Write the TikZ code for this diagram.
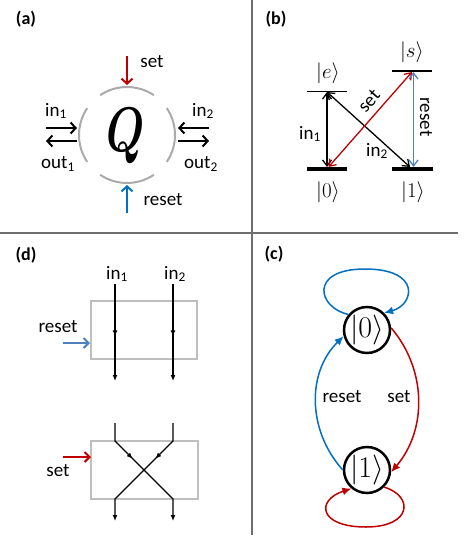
\RequirePackage{fix-cm}
\documentclass[tikz,border=0pt]{standalone}
\usepackage{graphicx}
\usepackage[no-math]{fontspec}
\setmainfont{Carlito}
\usetikzlibrary{arrows.meta,decorations.markings,calc}
\definecolor{myred}{RGB}{192,0,0}
\definecolor{myblue}{RGB}{0,112,192}
\definecolor{lightblue}{RGB}{79,129,189}
\definecolor{arcgray}{RGB}{170,170,170}
\definecolor{boxgray}{RGB}{191,191,191}
\definecolor{divgray}{RGB}{110,110,110}
\begin{document}
\begin{tikzpicture}[x=1pt,y=-1pt,
  lbl/.style={font=\fontsize{19}{22}\selectfont, inner sep=0pt},
  plabel/.style={font=\fontsize{18}{21}\selectfont\bfseries, inner sep=0pt},
  ket/.style={font=\fontsize{21}{24}\selectfont, inner sep=0pt},
  divider/.style={draw=divgray, line width=1.4pt},
  qarc/.style={draw=arcgray, line width=2pt},
  barbA/.style={line width=2pt, -{Straight Barb[length=5pt,width=11pt]}},
  barbB/.style={line width=1.3pt, {Straight Barb[length=6pt,width=9pt]}-{Straight Barb[length=6pt,width=9pt]}},
  thinlevel/.style={line width=1.3pt},
  thicklevel/.style={line width=4pt},
  state/.style={circle, draw, line width=2.5pt, minimum size=46pt, inner sep=0pt, font=\fontsize{30}{32}\selectfont},
  edgeC/.style={line width=1.5pt, -{Latex[length=9pt,width=8pt]}},
  wire/.style={line width=1.3pt},
  wireend/.style={wire, -{Latex[length=6pt,width=5pt]}},
  midarrow/.style={postaction={decorate}, decoration={markings, mark=at position #1 with {\arrow{Latex[length=6pt,width=5pt]}}}},
  gbox/.style={draw=boxgray, line width=2.8pt, inner sep=0pt},
  ctrl/.style={line width=2pt, -{Straight Barb[length=5pt,width=10pt]}},
]
\useasboundingbox (0,0) rectangle (469,546);
\fill[white] (0,0) rectangle (469,546);

% dividers
\coordinate (vt) at (252,0); \coordinate (vb) at (252,535);
\coordinate (hl) at (0,233); \coordinate (hr) at (458,233);
\draw[divider] (vt) -- (vb);
\draw[divider] (hl) -- (hr);

% ---------- panel (a)
\node[plabel] (pa) at (26,19) {(a)};
\coordinate (qc) at (127,135);
\node[font=\fontsize{63}{66}\selectfont\boldmath, inner sep=0pt] (Q) at (126,136) {\scalebox{0.7}[1]{$Q$}};
\foreach \a [evaluate=\a as \s using \a-34, evaluate=\a as \e using \a+34] in {0,90,180,270}
  \draw[qarc] ($(qc)+(\s:48)$) arc[start angle=\s, end angle=\e, radius=48];
\coordinate (i1s) at (46,128); \coordinate (i1e) at (77,128);
\coordinate (o1s) at (77,141); \coordinate (o1e) at (46,141);
\coordinate (i2s) at (209,128); \coordinate (i2e) at (178,128);
\coordinate (o2s) at (178,141); \coordinate (o2e) at (209,141);
\coordinate (sts) at (127,56); \coordinate (ste) at (127,85);
\coordinate (rss) at (127,213); \coordinate (rse) at (127,185);
\draw[barbA] (i1s) -- (i1e);
\draw[barbA] (o1s) -- (o1e);
\draw[barbA] (i2s) -- (i2e);
\draw[barbA] (o2s) -- (o2e);
\draw[barbA, myred] (sts) -- (ste);
\draw[barbA, myblue] (rss) -- (rse);
\node[lbl] (ain1) at (56,111) {in\textsubscript{1}};
\node[lbl] (aout1) at (58,164) {out\textsubscript{1}};
\node[lbl] (ain2) at (203,111) {in\textsubscript{2}};
\node[lbl] (aout2) at (201,164) {out\textsubscript{2}};
\node[lbl] (aset) at (152,62) {set};
\node[lbl] (areset) at (163,200) {reset};

% ---------- panel (b)
\node[plabel] (pb) at (276,19) {(b)};
\coordinate (eL) at (307,91.5); \coordinate (eR) at (347,91.5);
\coordinate (sL) at (392,71); \coordinate (sR) at (432,71);
\coordinate (zL) at (307,168.5); \coordinate (zR) at (347,168.5);
\coordinate (oL) at (392,168.5); \coordinate (oR) at (433,168.5);
\draw[thinlevel] (eL) -- (eR);
\draw[thinlevel] (sL) -- (sR);
\draw[thicklevel] (zL) -- (zR);
\draw[thicklevel] (oL) -- (oR);
\coordinate (e) at (327,92);
\coordinate (g0) at (327,167);
\coordinate (g0r) at (328.5,167);
\coordinate (g1) at (410,167);
\coordinate (s) at (412,72);
\coordinate (st) at (413.5,72);
\coordinate (g1b) at (413.5,167);
\draw[barbB] (e) -- (g0);
\draw[barbB] (e) -- (g1);
\draw[barbB, myred] (g0r) -- (s);
\draw[barbB, lightblue] (st) -- (g1b);
\node[ket] (ke) at (328,73) {$|e\rangle$};
\node[ket] (ks) at (412,52) {$|s\rangle$};
\node[ket] (k0) at (328,192) {$|0\rangle$};
\node[ket] (k1) at (413,192) {$|1\rangle$};
\node[lbl] (bin1) at (310,134) {in\textsubscript{1}};
\node[lbl] (bin2) at (377,151) {in\textsubscript{2}};
\node[lbl, rotate=49] (bset) at (369,101) {set};
\node[lbl, rotate=-90] (breset) at (426,117) {reset};

% ---------- panel (c)
\node[plabel] (pc) at (274,254) {(c)};
\node[state] (n0) at (367,330) {$|0\rangle$};
\node[state] (n1) at (367,470) {$|1\rangle$};
\draw[edgeC, myblue] (n0.140) .. controls (318,308) and (308,269) .. (365,269)
   .. controls (422,269) and (414,305) .. (n0.45);
\draw[edgeC, myred] (n1.-45) .. controls (414,496) and (412,527) .. (366,527)
   .. controls (318,527) and (316,500) .. (n1.230);
\draw[edgeC, myblue] (n1.180) .. controls (307,430) and (307,372) .. (n0.195);
\draw[edgeC, myred] (n0.5) .. controls (427,370) and (427,430) .. (n1.-5);
\node[lbl] (creset) at (342,397) {reset};
\node[lbl] (cset) at (399,397) {set};

% ---------- panel (d)
\node[plabel] (pd) at (26,255) {(d)};
\node[lbl] (din1) at (117,274) {in\textsubscript{1}};
\node[lbl] (din2) at (175,274) {in\textsubscript{2}};
\node[gbox, minimum width=106pt, minimum height=58pt] (box1) at (144,330) {};
\node[gbox, minimum width=107pt, minimum height=58pt] (box2) at (144.5,470) {};
\coordinate (a1s) at (115,284); \coordinate (a1e) at (115,381);
\coordinate (a2s) at (173,284); \coordinate (a2e) at (173,381);
\draw[wireend, midarrow=0.54] (a1s) -- (a1e);
\draw[wireend, midarrow=0.54] (a2s) -- (a2e);
\coordinate (c1s) at (115,423); \coordinate (c1a) at (115,441);
\coordinate (c1b) at (173,499); \coordinate (c1e) at (173,521);
\coordinate (c2s) at (173,423); \coordinate (c2a) at (173,441);
\coordinate (c2b) at (115,499); \coordinate (c2e) at (115,521);
\draw[wireend, midarrow=43pt] (c1s) -- (c1a) -- (c1b) -- (c1e);
\draw[wireend, midarrow=43pt] (c2s) -- (c2a) -- (c2b) -- (c2e);
\coordinate (drs) at (63,343); \coordinate (dre) at (90,343);
\coordinate (dss) at (63,457); \coordinate (dse) at (91,457);
\draw[ctrl, lightblue] (drs) -- (dre);
\draw[ctrl, myred] (dss) -- (dse);
\node[lbl] (dreset) at (58,327) {reset};
\node[lbl] (dset) at (58,471) {set};
\end{tikzpicture}
\end{document}
